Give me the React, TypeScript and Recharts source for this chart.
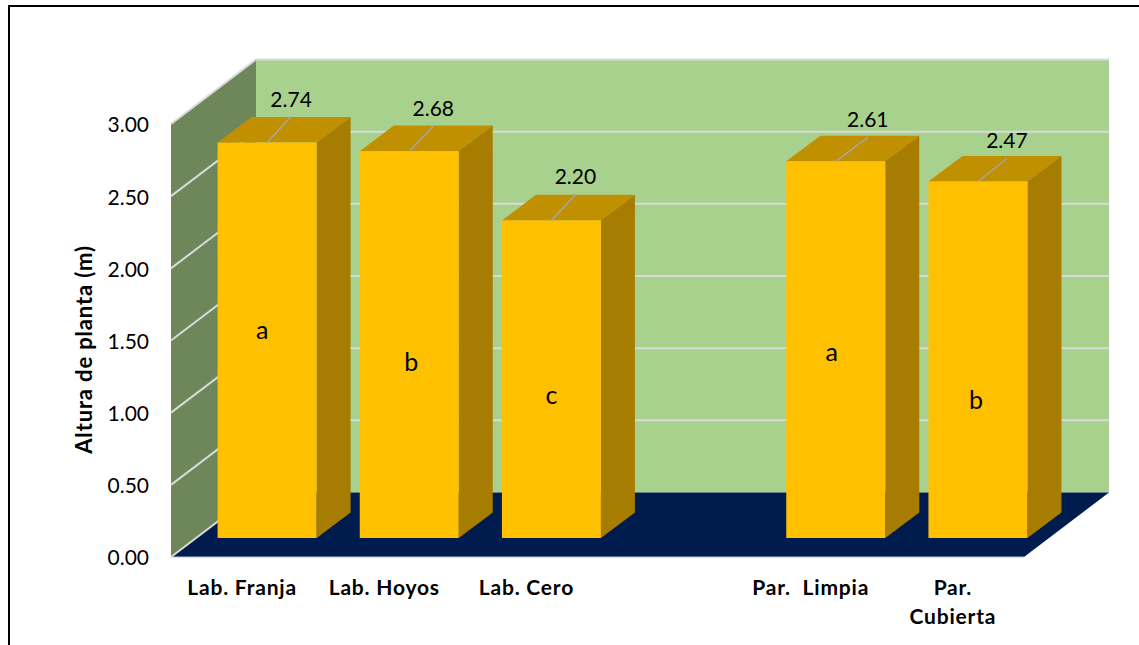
import { Bar, BarChart, CartesianGrid, LabelList, XAxis, YAxis } from "recharts";

const CATEGORIES = ["Lab. Franja", "Lab. Hoyos", "Lab. Cero", "", "Par.  Limpia", "Par.\nCubierta"];
const HEIGHTS = [2.74, 2.68, 2.2, null, 2.61, 2.47];
const LETTERS = ["a", "b", "c", "", "a", "b"];
const Y_TICKS = [0, 0.5, 1, 1.5, 2, 2.5, 3];

const data = CATEGORIES.map((name, i) => ({ name, height: HEIGHTS[i], letter: LETTERS[i] }));

// one entry per drawn bar (the empty slot gets no label):
// leader line end, relative to the middle of the bar's top edge
const LEADERS = [[24, -26], [24, -25], [24, -26], [32, -24], [29, -23]];
// letter shift from the centre of the bar's front face
const LETTER_SHIFT = [[-5, -9], [2, 18], [0, 17], [-4, 3], [-2, 41]];

const W = 1139;
const H = 645;
const LEFT = 171;
const RIGHT = 1024;
const TOP = 124;
const BOTTOM = 557;
const DEPTH_X = 85;
const DEPTH_Y = 64.5;
// bars stand in the middle of the floor depth
const BAR_DX = 24.6;
const BAR_DY = 19;
const BAR_DEPTH_X = 34;
const BAR_DEPTH_Y = 25.6;

const FONT = "Lato, sans-serif";
const GRID = "#D9D9D9";

const pts = (list: number[][]) => list.map((p) => p.join(",")).join(" ");

// back wall, side wall and floor sit in their own svg under the chart
function Walls() {
  return (
    <svg width={W} height={H} style={{ position: "absolute", left: 0, top: 0 }}>
      <polygon
        points={pts([[LEFT + DEPTH_X, TOP - DEPTH_Y], [RIGHT + DEPTH_X, TOP - DEPTH_Y], [RIGHT + DEPTH_X, BOTTOM - DEPTH_Y], [LEFT + DEPTH_X, BOTTOM - DEPTH_Y]])}
        fill="#A9D18E"
      />
      <polygon
        points={pts([[LEFT, TOP], [LEFT + DEPTH_X, TOP - DEPTH_Y], [LEFT + DEPTH_X, BOTTOM - DEPTH_Y], [LEFT, BOTTOM]])}
        fill="#6E875A"
      />
      <polygon
        points={pts([[LEFT, BOTTOM], [LEFT + DEPTH_X, BOTTOM - DEPTH_Y], [RIGHT + DEPTH_X, BOTTOM - DEPTH_Y], [RIGHT, BOTTOM]])}
        fill="#001C4F"
      />
      <line x1={LEFT} y1={BOTTOM} x2={RIGHT} y2={BOTTOM} stroke="#B9C2D6" strokeWidth={1} />
    </svg>
  );
}

// each grid line runs up the left wall and then along the back wall
function wallGridLine(props: any) {
  const { x1, x2, y1, index } = props;
  const isFloor = Math.abs(y1 - BOTTOM) < 1;
  const path = isFloor
    ? `M${x1},${y1} L${x1 + DEPTH_X},${y1 - DEPTH_Y}`
    : `M${x1},${y1} L${x1 + DEPTH_X},${y1 - DEPTH_Y} L${x2 + DEPTH_X},${y1 - DEPTH_Y}`;
  return <path key={index} d={path} fill="none" stroke={GRID} strokeWidth={2} />;
}

function Box(props: any) {
  const { x, y, width, height } = props;
  if (!height) return null;
  const l = x + BAR_DX;
  const r = l + width;
  const t = y - BAR_DY;
  const b = t + height;
  return (
    <g>
      <polygon points={pts([[l, t], [l + BAR_DEPTH_X, t - BAR_DEPTH_Y], [r + BAR_DEPTH_X, t - BAR_DEPTH_Y], [r, t]])} fill="#C09000" />
      <polygon points={pts([[r, t], [r + BAR_DEPTH_X, t - BAR_DEPTH_Y], [r + BAR_DEPTH_X, b - BAR_DEPTH_Y], [r, b]])} fill="#A67D00" />
      <rect x={l} y={t} width={width} height={height} fill="#FFC000" />
    </g>
  );
}

function ValueLabel(props: any) {
  const { x, y, width, value, index } = props;
  if (value == null) return null;
  const cx = x + BAR_DX + width / 2;
  const t = y - BAR_DY;
  const [lx, ly] = LEADERS[index];
  return (
    <g>
      <line x1={cx} y1={t} x2={cx + lx} y2={t + ly} stroke="#A6A6A6" strokeWidth={1.5} />
      <text x={cx + lx} y={t + ly - 10} textAnchor="middle" fontFamily={FONT} fontSize={21} fill="#000">
        {Number(value).toFixed(2)}
      </text>
    </g>
  );
}

function LetterLabel(props: any) {
  const { x, y, width, height, value, index } = props;
  if (!value) return null;
  const [sx, sy] = LETTER_SHIFT[index];
  return (
    <text
      x={x + BAR_DX + width / 2 + sx}
      y={y - BAR_DY + height / 2 + sy + 8}
      textAnchor="middle"
      fontFamily={FONT}
      fontSize={25}
      fill="#000"
    >
      {value}
    </text>
  );
}

function CategoryTick(props: any) {
  const { x, y, payload } = props;
  return (
    <text textAnchor="middle" fontFamily={FONT} fontSize={21} fontWeight={700} letterSpacing={0.8} fill="#000" style={{ whiteSpace: "pre" }}>
      {String(payload.value).split("\n").map((line, i) => (
        <tspan key={i} x={x} y={y + 30 + i * 29}>
          {line}
        </tspan>
      ))}
    </text>
  );
}

export default function App() {
  return (
    <div style={{ position: "absolute", left: 0, top: 0, width: W, height: H, background: "#fff", overflow: "hidden" }}>
      <div style={{ position: "absolute", left: 8, top: 5, width: W, height: H, borderLeft: "2px solid #000", borderTop: "2px solid #000" }} />
      <Walls />
      <BarChart
        width={W}
        height={H}
        data={data}
        margin={{ top: TOP, right: W - RIGHT, bottom: H - BOTTOM - 40, left: LEFT - 70 }}
        barSize={99}
        style={{ position: "absolute", left: 0, top: 0 }}
      >
        <CartesianGrid vertical={false} horizontal={wallGridLine} />
        <XAxis dataKey="name" height={40} interval={0} axisLine={false} tickLine={false} tick={CategoryTick} />
        <YAxis
          width={70}
          domain={[0, 3]}
          ticks={Y_TICKS}
          tickFormatter={(v: number) => v.toFixed(2)}
          axisLine={false}
          tickLine={false}
          tickMargin={16}
          tick={{ fontFamily: FONT, fontSize: 21, fill: "#000", dy: 1 }}
          label={{
            value: "Altura de planta (m)",
            angle: -90,
            position: "center",
            dx: -52,
            dy: 9,
            style: { fontFamily: FONT, fontSize: 22, fontWeight: 700, letterSpacing: 0.85, fill: "#000" },
          }}
        />
        <Bar dataKey="height" shape={Box} isAnimationActive={false}>
          <LabelList dataKey="height" content={ValueLabel} />
          <LabelList dataKey="letter" content={LetterLabel} />
        </Bar>
      </BarChart>
    </div>
  );
}
